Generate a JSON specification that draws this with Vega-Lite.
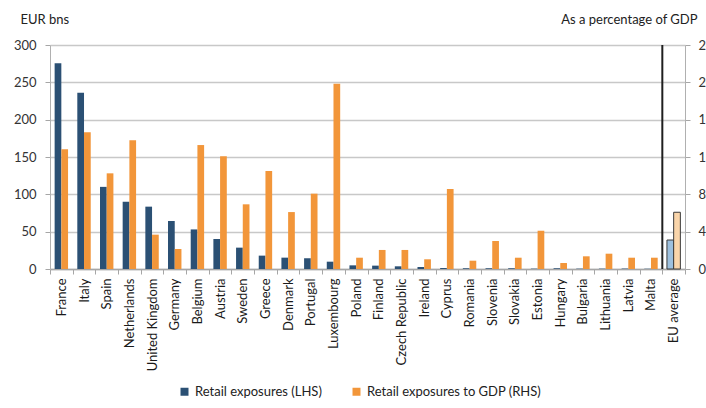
{
  "$schema": "https://vega.github.io/schema/vega-lite/v6.json",
  "autosize": "none",
  "width": 635,
  "height": 224,
  "padding": {"left": 50, "top": 45, "right": 21, "bottom": 139},
  "background": "white",
  "config": {
    "font": "Lato",
    "view": {"stroke": null},
    "axis": {"labelFont": "Lato", "titleFont": "Lato", "labelFontSize": 13, "titleFontSize": 13, "titleFontWeight": "normal", "labelColor": "#333333", "titleColor": "#222222"},
    "legend": {"labelFont": "Lato", "labelFontSize": 13, "labelColor": "#222222"}
  },
  "data": {
    "values": [
      {"country": "France", "lhs": 275.5, "rhs": 128.3},
      {"country": "Italy", "lhs": 236, "rhs": 146.4},
      {"country": "Spain", "lhs": 110, "rhs": 102.5},
      {"country": "Netherlands", "lhs": 90, "rhs": 138},
      {"country": "United Kingdom", "lhs": 83.5, "rhs": 36.8},
      {"country": "Germany", "lhs": 64.3, "rhs": 21.4},
      {"country": "Belgium", "lhs": 53, "rhs": 132.8},
      {"country": "Austria", "lhs": 40.2, "rhs": 120.8},
      {"country": "Sweden", "lhs": 28.6, "rhs": 69.3},
      {"country": "Greece", "lhs": 17.9, "rhs": 105},
      {"country": "Denmark", "lhs": 15.2, "rhs": 61},
      {"country": "Portugal", "lhs": 14.3, "rhs": 80.7},
      {"country": "Luxembourg", "lhs": 9.8, "rhs": 198.5},
      {"country": "Poland", "lhs": 4.9, "rhs": 12.1},
      {"country": "Finland", "lhs": 4.5, "rhs": 20.4},
      {"country": "Czech Republic", "lhs": 3.6, "rhs": 20.4},
      {"country": "Ireland", "lhs": 2.7, "rhs": 10.4},
      {"country": "Cyprus", "lhs": 1.3, "rhs": 85.7},
      {"country": "Romania", "lhs": 1, "rhs": 8.9},
      {"country": "Slovenia", "lhs": 1, "rhs": 30},
      {"country": "Slovakia", "lhs": 1, "rhs": 12.1},
      {"country": "Estonia", "lhs": 0.5, "rhs": 41},
      {"country": "Hungary", "lhs": 1, "rhs": 6.4},
      {"country": "Bulgaria", "lhs": 0.5, "rhs": 13.6},
      {"country": "Lithuania", "lhs": 0.5, "rhs": 16.4},
      {"country": "Latvia", "lhs": 0.6, "rhs": 12.1},
      {"country": "Malta", "lhs": 0.4, "rhs": 12.1},
      {"country": "EU average", "lhs": 38.8, "rhs": 60.8}
    ]
  },
  "transform": [
    {"fold": ["lhs", "rhs"], "as": ["key", "value"]},
    {"calculate": "datum.key === 'lhs' ? 'Retail exposures (LHS)' : 'Retail exposures to GDP (RHS)'", "as": "series"}
  ],
  "encoding": {
    "x": {
      "field": "country",
      "type": "nominal",
      "sort": null,
      "scale": {"paddingInner": 0, "paddingOuter": 0},
      "axis": {
        "title": null,
        "labelAngle": 270,
        "labelAlign": "right",
        "labelBaseline": "middle",
        "labelPadding": 4,
        "labelColor": "#1a1a1a",
        "tickBand": "extent",
        "tickSize": 5,
        "tickColor": "#a6a6a6",
        "domainColor": "#a6a6a6",
        "domainWidth": 1.5
      }
    },
    "xOffset": {"field": "series", "type": "nominal", "scale": {"paddingInner": 0, "paddingOuter": 0.69}}
  },
  "layer": [
    {
      "transform": [{"filter": "datum.key === 'lhs'"}],
      "mark": {"type": "bar", "strokeWidth": 1},
      "encoding": {
        "y": {
          "field": "value",
          "type": "quantitative",
          "scale": {"domain": [0, 300], "nice": false},
          "axis": {
            "orient": "left",
            "values": [0, 50, 100, 150, 200, 250, 300],
            "title": "EUR bns",
            "titleAngle": 0,
            "titleAlign": "left",
            "titleBaseline": "alphabetic",
            "titleX": -30,
            "titleY": -22,
            "grid": true,
            "gridColor": "#c8c8c8",
            "gridWidth": 1.5,
            "domainColor": "#b0b0b0",
            "tickColor": "#a6a6a6",
            "tickSize": 5,
            "labelPadding": 9
          }
        },
        "color": {
          "condition": {"test": "datum.country === 'EU average'", "value": "#9dc0de"},
          "field": "series",
          "type": "nominal",
          "scale": {"domain": ["Retail exposures (LHS)", "Retail exposures to GDP (RHS)"], "range": ["#2b5074", "#f2963a"]},
          "legend": {
            "title": null,
            "orient": "none",
            "direction": "horizontal",
            "legendX": 128,
            "legendY": 340,
            "symbolType": "square",
            "symbolSize": 64,
            "symbolStrokeWidth": 0,
            "labelOffset": 4,
            "columnPadding": 28,
            "labelLimit": 400
          }
        },
        "stroke": {
          "condition": {"test": "datum.country === 'EU average'", "value": "#3a3a3a"},
          "value": null
        }
      }
    },
    {
      "transform": [{"filter": "datum.key === 'rhs'"}],
      "mark": {"type": "bar", "strokeWidth": 1},
      "encoding": {
        "y": {
          "field": "value",
          "type": "quantitative",
          "scale": {"domain": [0, 240], "nice": false},
          "axis": {
            "orient": "right",
            "values": [0, 40, 80, 120, 160, 200, 240],
            "title": "As a percentage of GDP",
            "titleAngle": 0,
            "titleAlign": "right",
            "titleBaseline": "alphabetic",
            "titleX": 12,
            "titleY": -22,
            "grid": false,
            "domainColor": "#b0b0b0",
            "tickColor": "#a6a6a6",
            "tickSize": 5,
            "labelPadding": 8,
            "labelAlign": "left"
          }
        },
        "color": {
          "condition": {"test": "datum.country === 'EU average'", "value": "#fad5aa"},
          "field": "series",
          "type": "nominal"
        },
        "stroke": {
          "condition": {"test": "datum.country === 'EU average'", "value": "#3a3a3a"},
          "value": null
        }
      }
    },
    {
      "transform": [{"filter": "datum.key === 'lhs' && datum.country === 'EU average'"}],
      "mark": {"type": "rule", "color": "#1f1f1f", "strokeWidth": 2},
      "encoding": {
        "x": {"field": "country", "type": "nominal", "sort": null, "bandPosition": 0},
        "xOffset": {"value": 0}
      }
    }
  ],
  "resolve": {"scale": {"y": "independent"}}
}
